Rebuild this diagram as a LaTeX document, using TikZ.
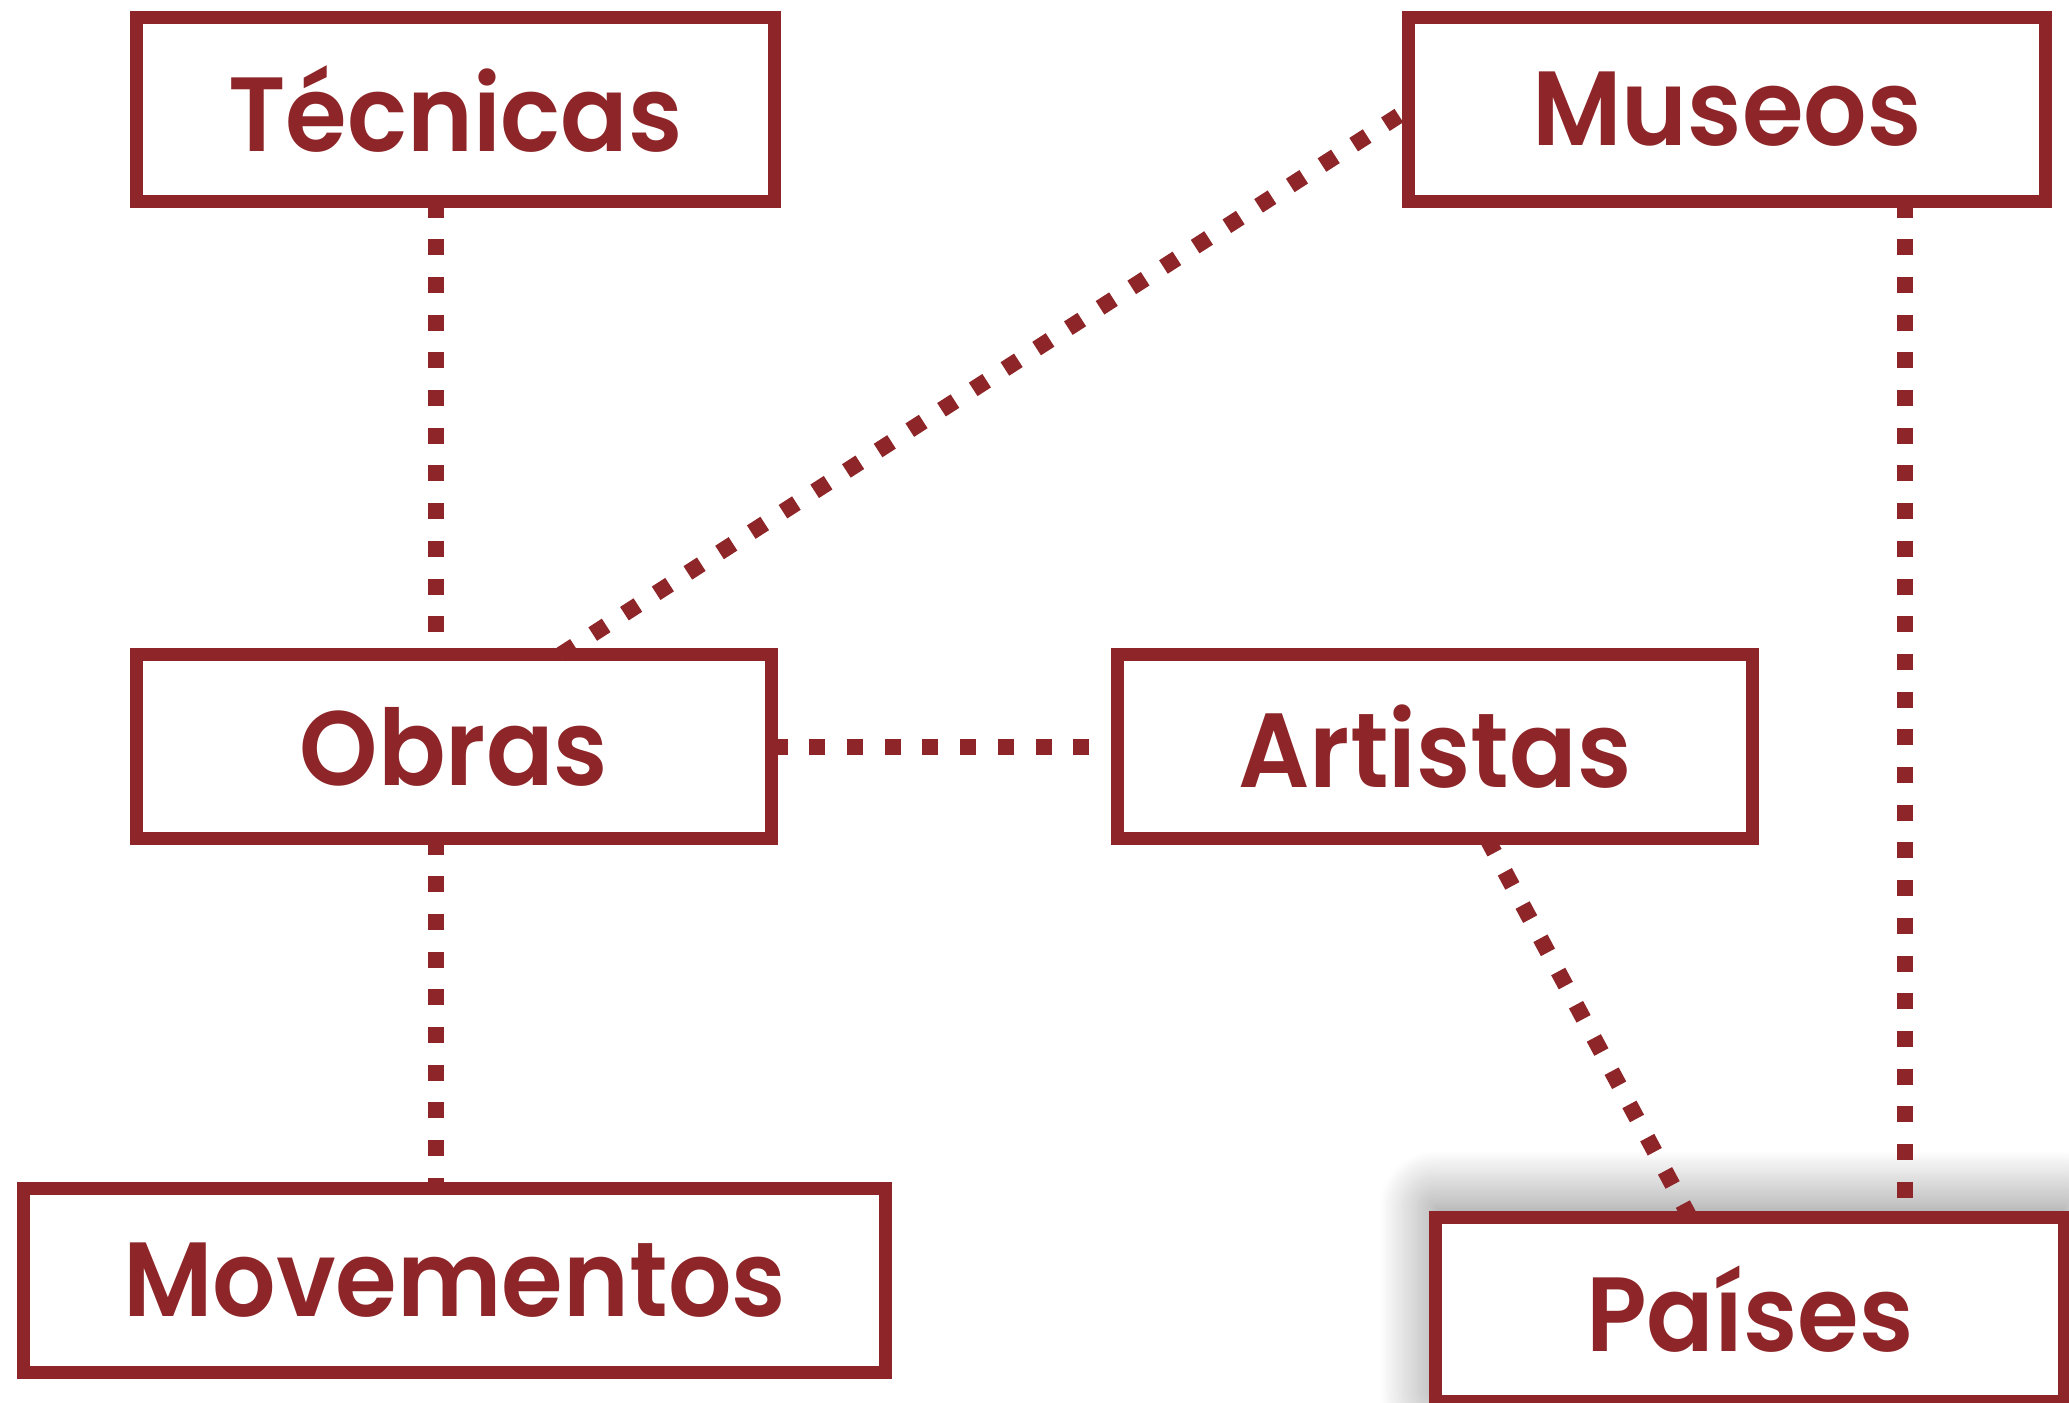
\documentclass[tikz,border=0pt]{standalone}
\usepackage{fontspec}
\setmainfont{Poppins}[UprightFont=* SemiBold, FakeStretch=0.945]
\usetikzlibrary{calc,shadows.blur}
\definecolor{wine}{RGB}{142,38,41}
\tikzset{
  entity/.style={draw=wine, line width=3.7pt, fill=white, inner sep=0pt, outer sep=0pt,
    minimum height=1.84cm, text=wine, font=\fontsize{30}{36}\selectfont},
  link/.style={draw=wine, line width=4.55pt, dash pattern=on 4.55pt off 6.17pt, line cap=butt}
}
\begin{document}
\begin{tikzpicture}[x=0.01cm,y=-0.01cm]
\useasboundingbox (0,0) rectangle (2069,1402);
\node[entity, minimum width=6.38cm] (tec) at (455.5,109.5) {Técnicas};
\node[entity, minimum width=6.37cm] (mus) at (1727,109.5) {Museos};
\node[entity, minimum width=6.35cm] (obr) at (454,746.5) {Obras};
\node[entity, minimum width=6.35cm] (art) at (1435,746.5) {Artistas};
\node[entity, minimum width=8.62cm] (mov) at (454.5,1280.5) {Movementos};
\node[entity, minimum width=6.29cm, blur shadow={shadow xshift=0pt, shadow yshift=3pt, shadow blur radius=16pt, shadow blur steps=30, shadow opacity=50}] (pai) at (1750,1309.5) {Países};
\draw[link] ($(tec.south)+(-19.5,0)$) coordinate (a) -- (a |- obr.north);
\draw[link] ($(obr.south)+(-18,0)$) coordinate (b) -- (b |- mov.north);
\draw[link] (obr.east) -- (art.west);
\draw[link] ($(obr.north)+(107,0)$) -- (mus.west);
\draw[link] ($(art.south)+(52,0)$) -- ($(pai.north)+(-60,0)$);
\draw[link] ($(mus.south)+(178,0)$) coordinate (c) -- (c |- pai.north);
\end{tikzpicture}
\end{document}
